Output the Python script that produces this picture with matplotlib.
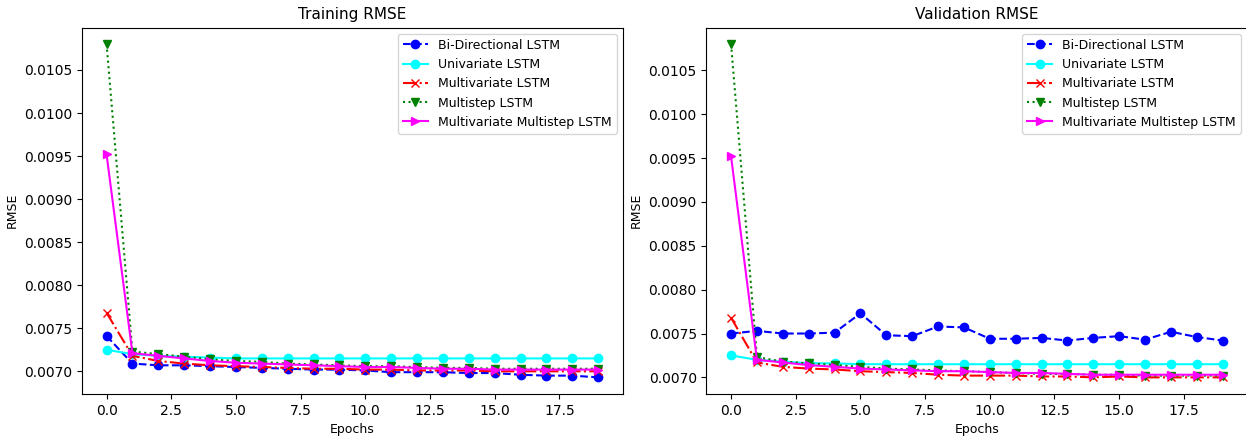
import matplotlib.pyplot as plt
import numpy as np

# epochs 0..19
epochs = list(range(20))

# training RMSE
train_bidir = [0.00741, 0.00709, 0.00707, 0.00707, 0.00706, 0.00705, 0.00704, 0.00703, 0.00702, 0.00702,
               0.00701, 0.00699, 0.00699, 0.00699, 0.00698, 0.00698, 0.00696, 0.00695, 0.00695, 0.00693]
train_uni = [0.00725, 0.00720, 0.00718, 0.00717, 0.00716, 0.00715, 0.00715, 0.00715, 0.00715, 0.00715,
             0.00715, 0.00715, 0.00715, 0.00715, 0.00715, 0.00715, 0.00715, 0.00715, 0.00715, 0.00715]
train_multi = [0.00768, 0.00718, 0.00712, 0.00709, 0.00707, 0.00706, 0.00705, 0.00704, 0.00703, 0.00703,
               0.00702, 0.00702, 0.00701, 0.00701, 0.00701, 0.00700, 0.00700, 0.00700, 0.00700, 0.00700]
train_step = [0.01080, 0.00723, 0.00720, 0.00717, 0.00714, 0.00712, 0.00711, 0.00709, 0.00708, 0.00707,
              0.00706, 0.00706, 0.00705, 0.00704, 0.00704, 0.00703, 0.00703, 0.00703, 0.00703, 0.00703]
train_mstep = [0.00952, 0.00721, 0.00718, 0.00715, 0.00712, 0.00710, 0.00709, 0.00708, 0.00707, 0.00706,
               0.00705, 0.00705, 0.00704, 0.00703, 0.00703, 0.00702, 0.00702, 0.00702, 0.00702, 0.00702]

# validation RMSE
val_bidir = [0.00750, 0.00753, 0.00750, 0.00750, 0.00751, 0.00773, 0.00748, 0.00747, 0.00758, 0.00757,
             0.00744, 0.00744, 0.00745, 0.00742, 0.00745, 0.00747, 0.00743, 0.00752, 0.00746, 0.00742]
val_uni = [0.00725, 0.00720, 0.00718, 0.00716, 0.00716, 0.00715, 0.00715, 0.00715, 0.00715, 0.00715,
           0.00715, 0.00715, 0.00715, 0.00715, 0.00715, 0.00715, 0.00715, 0.00715, 0.00715, 0.00715]
val_multi = [0.00768, 0.00717, 0.00712, 0.00710, 0.00709, 0.00707, 0.00706, 0.00705, 0.00703, 0.00702,
             0.00702, 0.00702, 0.00701, 0.00701, 0.00700, 0.00701, 0.00700, 0.00700, 0.00700, 0.00700]
val_step = [0.01080, 0.00723, 0.00718, 0.00716, 0.00714, 0.00712, 0.00710, 0.00709, 0.00708, 0.00707,
            0.00706, 0.00705, 0.00704, 0.00704, 0.00703, 0.00703, 0.00702, 0.00702, 0.00702, 0.00702]
val_mstep = [0.00952, 0.00720, 0.00717, 0.00714, 0.00712, 0.00710, 0.00709, 0.00708, 0.00707, 0.00707,
             0.00706, 0.00705, 0.00705, 0.00704, 0.00703, 0.00703, 0.00703, 0.00703, 0.00703, 0.00703]

labels = ["Bi-Directional LSTM", "Univariate LSTM", "Multivariate LSTM",
          "Multistep LSTM", "Multivariate Multistep LSTM"]
styles = [("blue", "--", "o"), ("cyan", "-", "o"), ("red", "-.", "x"),
          ("green", ":", "v"), ("magenta", "-", ">")]

fig = plt.figure(figsize=(12.46, 4.36), dpi=100)
ax1 = fig.add_axes([0.0658, 0.0963, 0.434, 0.8406])
ax2 = fig.add_axes([0.567, 0.0963, 0.434, 0.8406])

panels = [
    (ax1, "Training RMSE", [train_bidir, train_uni, train_multi, train_step, train_mstep]),
    (ax2, "Validation RMSE", [val_bidir, val_uni, val_multi, val_step, val_mstep]),
]

for ax, title, series in panels:
    for ys, lab, (c, ls, m) in zip(series, labels, styles):
        ax.plot(epochs, ys, color=c, linestyle=ls, marker=m, label=lab)
    ax.set_title(title, fontsize=11)
    ax.set_xlabel("Epochs", fontsize=9)
    ax.set_ylabel("RMSE", fontsize=9)
    ax.legend(loc="upper right", fontsize=9)

fig.savefig("out.png", dpi=100)
